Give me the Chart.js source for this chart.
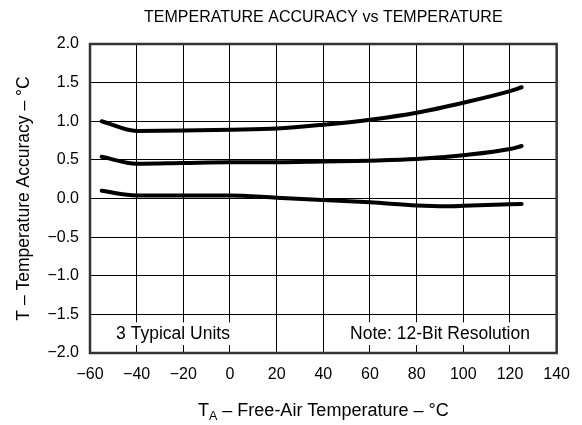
<!DOCTYPE html>
<html><head><meta charset="utf-8">
<script src="https://cdn.jsdelivr.net/npm/chart.js@4.4.0/dist/chart.umd.min.js"></script>
<style>html,body{margin:0;padding:0;background:#fff}#wrap{width:582px;height:425px}</style>
</head><body><div id="wrap"><canvas id="c" width="582" height="425"></canvas></div>
<script>
const chartTitle = "TEMPERATURE ACCURACY vs TEMPERATURE";
const yTitle = "T \u2013 Temperature Accuracy \u2013 \u00B0C";
const xTitleMain = "T";
const xTitleSub = "A";
const xTitleRest = " \u2013 Free-Air Temperature \u2013 \u00B0C";
const note1 = "3 Typical Units";
const note2 = "Note: 12-Bit Resolution";

const temps = [-55, -40, -20, 0, 20, 40, 60, 80, 100, 120, 125];
const unit1 = [1.00, 0.875, 0.88, 0.89, 0.905, 0.955, 1.02, 1.11, 1.24, 1.39, 1.44];
const unit2 = [0.54, 0.45, 0.46, 0.47, 0.47, 0.48, 0.49, 0.51, 0.56, 0.64, 0.68];
const temps3 = [-55, -40, -20, 0, 20, 40, 60, 80, 92, 100, 120, 125];
const unit3 = [0.10, 0.04, 0.04, 0.04, 0.01, -0.02, -0.05, -0.09, -0.10, -0.095, -0.075, -0.07];

const xMin = -60, xMax = 140, xStep = 20;
const yMin = -2, yMax = 2, yStep = 0.5;

const FONT = "'Liberation Sans', Arial, Helvetica, sans-serif";
const pts = (xs, ys) => xs.map((x, i) => ({x: x, y: ys[i]}));
const minus = s => String(s).replace('-', '\u2212');

const ds = (data) => ({
  data: data, borderColor: '#000', borderWidth: 4, pointRadius: 0,
  cubicInterpolationMode: 'monotone', borderCapStyle: 'round', fill: false
});

const decor = {
  id: 'decor',
  beforeDatasetsDraw(chart) {
    const {ctx, chartArea: a, scales: {x, y}} = chart;
    ctx.save();
    const yt = y.getPixelForValue(-1.5), yb = y.getPixelForValue(-2);
    const tick = 8;
    ctx.fillStyle = '#fff';
    ctx.fillRect(x.getPixelForValue(-60) + 2, yt + tick, x.getPixelForValue(20) - x.getPixelForValue(-60) - 3, yb - yt - 2 * tick);
    ctx.fillRect(x.getPixelForValue(40) + 1, yt + tick, x.getPixelForValue(140) - x.getPixelForValue(40) - 3, yb - yt - 2 * tick);
    ctx.fillStyle = '#000';
    ctx.font = '17.5px ' + FONT;
    ctx.textBaseline = 'middle';
    ctx.textAlign = 'center';
    const ym = (yt + yb) / 2;
    ctx.fillText(note1, 173, ym);
    ctx.fillText(note2, (x.getPixelForValue(40) + x.getPixelForValue(140)) / 2, ym);
    ctx.restore();
  },
  afterDraw(chart) {
    const {ctx, chartArea: a} = chart;
    ctx.save();
    ctx.strokeStyle = '#333';
    ctx.lineWidth = 2.5;
    ctx.strokeRect(a.left, a.top, a.right - a.left, a.bottom - a.top);
    ctx.fillStyle = '#000';
    ctx.font = '16px ' + FONT;
    ctx.textAlign = 'center';
    ctx.textBaseline = 'middle';
    ctx.fillText(chartTitle, (a.left + a.right) / 2, 18);
    ctx.save();
    ctx.translate(24, (a.top + a.bottom) / 2);
    ctx.rotate(-Math.PI / 2);
    ctx.font = '17.5px ' + FONT;
    ctx.fillText(yTitle, 0, 0);
    ctx.restore();
    ctx.font = '18px ' + FONT;
    ctx.textBaseline = 'alphabetic';
    ctx.textAlign = 'left';
    const wT = ctx.measureText(xTitleMain).width;
    const wR = ctx.measureText(xTitleRest).width;
    ctx.font = '12.5px ' + FONT;
    const wS = ctx.measureText(xTitleSub).width;
    const total = wT + wS + wR;
    let sx = (a.left + a.right) / 2 - total / 2;
    const by = 416;
    ctx.font = '18px ' + FONT;
    ctx.fillText(xTitleMain, sx, by);
    ctx.font = '12.5px ' + FONT;
    ctx.fillText(xTitleSub, sx + wT, by + 4);
    ctx.font = '18px ' + FONT;
    ctx.fillText(xTitleRest, sx + wT + wS, by);
    ctx.restore();
  }
};

new Chart(document.getElementById('c'), {
  type: 'line',
  data: {datasets: [ds(pts(temps, unit1)), ds(pts(temps, unit2)), ds(pts(temps3, unit3))]},
  options: {
    responsive: false, animation: false, devicePixelRatio: 1,
    layout: {padding: {left: 0, right: 23, top: 44, bottom: 0}},
    plugins: {legend: {display: false}, title: {display: false}, tooltip: {enabled: false}},
    scales: {
      x: {
        type: 'linear', min: xMin, max: xMax,
        ticks: {stepSize: xStep, color: '#000', font: {family: FONT, size: 16}, padding: 12, maxRotation: 0,
          callback: v => minus(v)},
        grid: {color: '#000', lineWidth: 1, drawTicks: false},
        border: {display: false},
        afterFit: s => { s.height = 72; }
      },
      y: {
        min: yMin, max: yMax,
        ticks: {stepSize: yStep, color: '#000', font: {family: FONT, size: 16}, padding: 11,
          callback: v => minus(Math.abs(v) < 1e-9 ? '0.0' : v.toFixed(1))},
        grid: {color: '#000', lineWidth: 1, drawTicks: false},
        border: {display: false},
        afterFit: s => { s.width = 90; }
      }
    }
  },
  plugins: [decor]
});
</script></body></html>
